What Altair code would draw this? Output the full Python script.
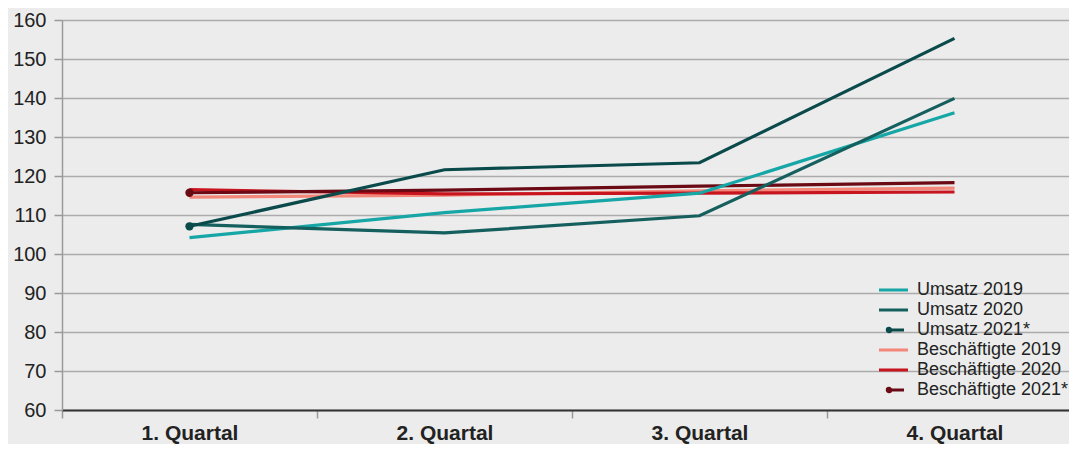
import altair as alt
import pandas as pd

quarters = ["1. Quartal", "2. Quartal", "3. Quartal", "4. Quartal"]

series_names = ["Umsatz 2019", "Umsatz 2020", "Umsatz 2021*",
                "Beschäftigte 2019", "Beschäftigte 2020", "Beschäftigte 2021*"]

umsatz_2019 = [104.2, 110.6, 115.6, 136.2]
umsatz_2020 = [107.6, 105.4, 109.8, 139.9]
umsatz_2021 = [107.1, 121.6, 123.4, 155.3]
besch_2019 = [114.6, 115.1, 116.2, 116.9]
besch_2020 = [116.5, 115.4, 115.6, 115.9]
besch_2021 = [115.7, 116.4, 117.4, 118.3]

series_colors = ["#16a6a6", "#15605f", "#0a4a4b", "#f2877a", "#c8141f", "#6b0a14"]

values = {
    "Umsatz 2019": umsatz_2019,
    "Umsatz 2020": umsatz_2020,
    "Umsatz 2021*": umsatz_2021,
    "Beschäftigte 2019": besch_2019,
    "Beschäftigte 2020": besch_2020,
    "Beschäftigte 2021*": besch_2021,
}

# drawing order: Beschäftigte first, Umsatz on top
draw_order = ["Beschäftigte 2019", "Beschäftigte 2020", "Beschäftigte 2021*",
              "Umsatz 2019", "Umsatz 2020", "Umsatz 2021*"]

rows = []
for k, name in enumerate(draw_order):
    for i, q in enumerate(quarters):
        rows.append({"Quartal": q, "Wert": values[name][i], "Reihe": name, "ord": k})
df = pd.DataFrame(rows)

stroke_path = "M-2.2,0L3.6,0"
dot_path = "M-0.2,0L2.8,0M-0.55,0a0.35,0.35 0 1,0 0.7,0a0.35,0.35 0 1,0 -0.7,0"
shape_range = [stroke_path, stroke_path, dot_path, stroke_path, stroke_path, dot_path]

FONT = "Liberation Sans"

x_enc = alt.X("Quartal:N", sort=quarters, title=None,
              scale=alt.Scale(type="band", paddingInner=0, paddingOuter=0),
              axis=alt.Axis(tickBand="extent", labelAngle=0, labelFont=FONT,
                            labelFontSize=21, labelFontWeight="bold", labelColor="#222222",
                            labelBaseline="top", labelPadding=4, tickSize=8,
                            tickColor="#9a9a9a", tickWidth=1.5,
                            domainColor="#333333", domainWidth=2, grid=False))
y_enc = alt.Y("Wert:Q", title=None,
              scale=alt.Scale(domain=[60, 160], nice=False, zero=False),
              axis=alt.Axis(values=list(range(60, 161, 10)), labelFont=FONT,
                            labelFontSize=20, labelColor="#222222", labelPadding=8,
                            tickSize=8, tickColor="#9a9a9a", tickWidth=1.5,
                            domainColor="#9a9a9a", domainWidth=1.5,
                            grid=True, gridColor="#ababab", gridWidth=1.5))

color_scale = alt.Scale(domain=series_names, range=series_colors)

lines = alt.Chart(df).mark_line(strokeWidth=3.2).encode(
    x=x_enc, y=y_enc,
    color=alt.Color("Reihe:N", scale=color_scale, legend=None),
    order=alt.Order("ord:Q"),
)

legend_layer = alt.Chart(df).mark_point(filled=False, opacity=0, size=100, strokeWidth=3).encode(
    x=x_enc, y=y_enc,
    color=alt.Color("Reihe:N", scale=color_scale,
                    legend=alt.Legend(title=None, orient="none", legendX=819, legendY=261,
                                      labelFont=FONT, labelFontSize=18, labelColor="#222222",
                                      labelOffset=18, symbolSize=100, symbolStrokeWidth=3,
                                      symbolOpacity=1, rowPadding=2, padding=0)),
    shape=alt.Shape("Reihe:N", scale=alt.Scale(domain=series_names, range=shape_range)),
)

dots_df = df[(df["Quartal"] == "1. Quartal") & (df["Reihe"].str.endswith("2021*"))]
dots = alt.Chart(dots_df).mark_point(filled=True, size=70, opacity=1).encode(
    x=x_enc, y=y_enc,
    color=alt.Color("Reihe:N", scale=color_scale, legend=None),
)

chart = alt.layer(lines, dots, legend_layer).resolve_legend(
    color="independent", shape="independent"
).properties(
    width=1020, height=390,
    autosize=alt.AutoSizeParams(type="none"),
    padding={"left": 54, "top": 12, "right": -13, "bottom": 34},
    background="#ebeceb",
).configure_view(stroke=None).configure(
    font=FONT
)

chart.save("out.html", embed_options={"renderer": "svg", "actions": False})
